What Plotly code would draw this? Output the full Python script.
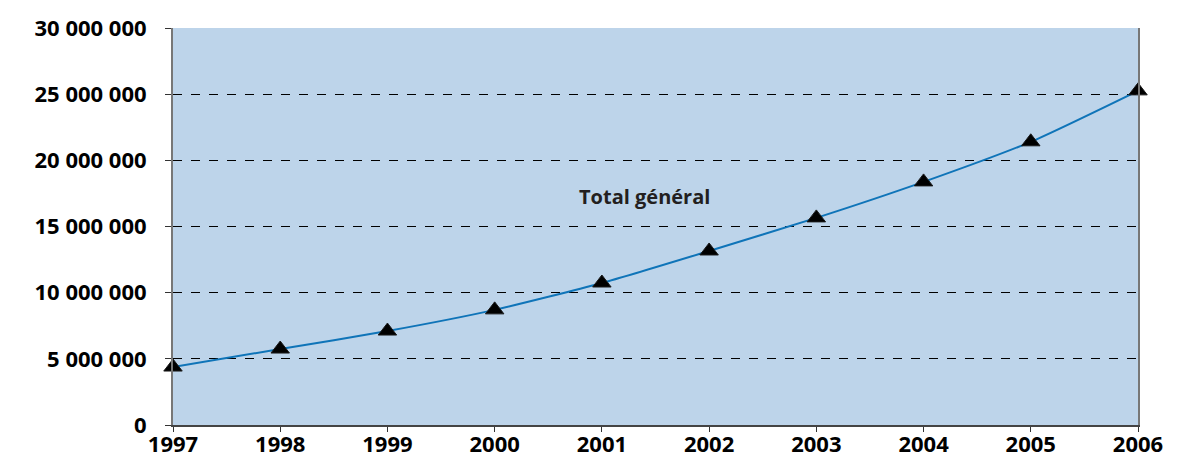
import plotly.graph_objects as go

annees = [1997, 1998, 1999, 2000, 2001, 2002, 2003, 2004, 2005, 2006]
total_general = [4380000, 5740000, 7100000, 8700000, 10730000, 13150000,
                 15650000, 18370000, 21400000, 25250000]

y_ticks = [0, 5000000, 10000000, 15000000, 20000000, 25000000, 30000000]
y_labels = ["0", "5 000 000", "10 000 000", "15 000 000", "20 000 000",
            "25 000 000", "30 000 000"]

fig = go.Figure()

fig.add_trace(
    go.Scatter(
        x=annees,
        y=total_general,
        mode="lines+markers",
        line=dict(color="#0f74b8", width=2, shape="spline", smoothing=0.6),
        marker=dict(symbol="triangle-up", size=16, color="black",
                    line=dict(color="#1a1a1a", width=1)),
        cliponaxis=False,
        showlegend=False,
    )
)

fig.add_annotation(
    x=2001.4, y=17230000,
    text="<b>Total général</b>",
    showarrow=False,
    xanchor="center",
    font=dict(size=20, color="#231f20", family="Open Sans"),
)

# la page ajoute une marge de 8 px autour du graphique
fig.update_layout(
    width=1196,
    height=459,
    margin=dict(l=165, r=66, t=20, b=42),
    plot_bgcolor="#bdd4ea",
    paper_bgcolor="white",
    font=dict(family="Open Sans", size=22, color="black"),
)

fig.update_xaxes(
    range=[1997, 2006],
    tickvals=annees,
    ticktext=[f"<b>{a}</b>" for a in annees],
    showgrid=False,
    zeroline=False,
    showline=True,
    linecolor="#444444",
    linewidth=2,
    mirror=False,
    ticks="outside",
    ticklen=5,
    tickcolor="#333333",
    ticklabelstandoff=-6,
    automargin=False,
)

fig.update_yaxes(
    range=[0, 30000000],
    tickvals=y_ticks,
    ticktext=[f"<b>{t}</b>" for t in y_labels],
    showgrid=True,
    gridcolor="black",
    griddash="dash",
    gridwidth=1,
    zeroline=False,
    showline=True,
    linecolor="#777777",
    linewidth=2,
    mirror=True,
    ticks="outside",
    ticklen=6,
    tickcolor="#333333",
    ticklabelstandoff=14,
    automargin=False,
)

fig.write_html("out.html")
